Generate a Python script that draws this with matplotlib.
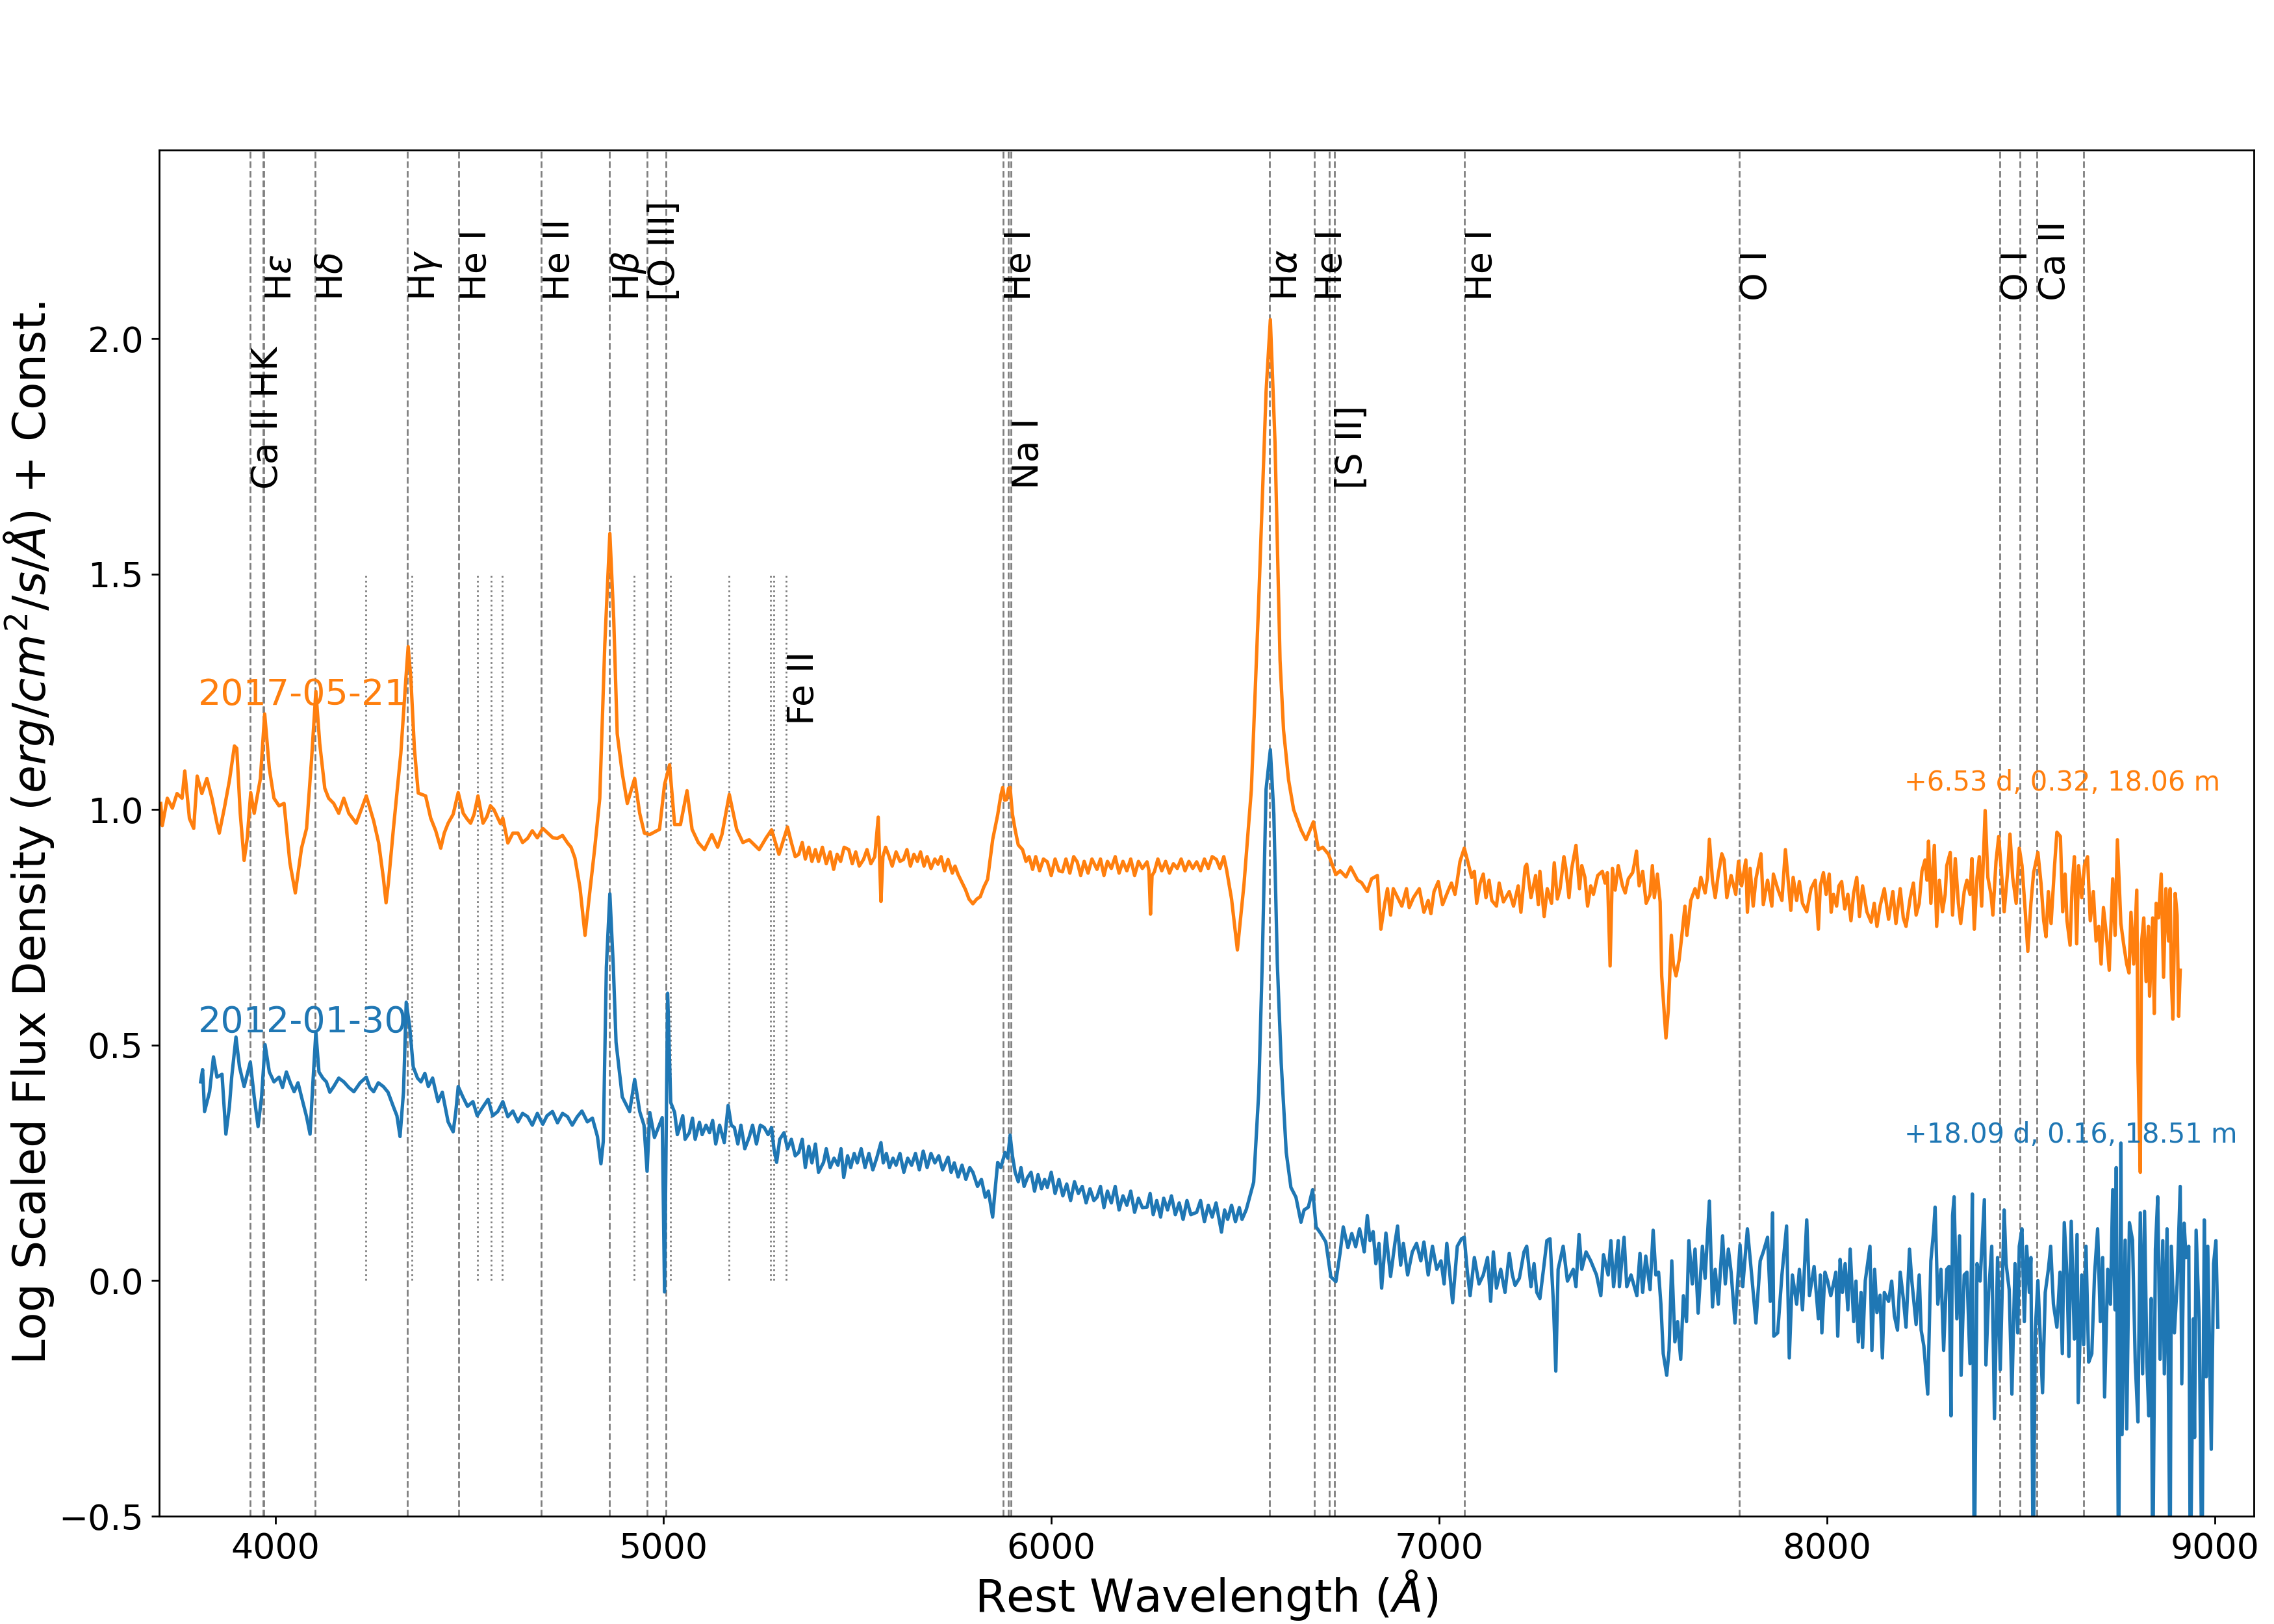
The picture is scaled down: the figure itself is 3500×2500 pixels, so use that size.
import matplotlib
matplotlib.use('Agg')
import matplotlib.pyplot as plt

# 2017-05-21 spectrum (orange), rest wavelength in Angstrom and log scaled flux + const
orange_wave = [
    3704, 3708, 3721, 3734, 3746, 3759, 3766, 3778, 3789, 3798,
    3810, 3823, 3836, 3849, 3855, 3868, 3881, 3894, 3900, 3909,
    3919, 3927, 3936, 3945, 3961, 3972, 3984, 3996, 4009, 4022,
    4037, 4051, 4067, 4080, 4093, 4104, 4114, 4127, 4137, 4150,
    4163, 4176, 4189, 4208, 4234, 4253, 4266, 4278, 4285, 4291,
    4304, 4323, 4336, 4342, 4349, 4358, 4368, 4387, 4400, 4413,
    4426, 4435, 4445, 4458, 4471, 4484, 4494, 4503, 4512, 4522,
    4535, 4545, 4554, 4563, 4573, 4580, 4586, 4599, 4612, 4625,
    4637, 4650, 4662, 4675, 4689, 4702, 4715, 4727, 4740, 4753,
    4762, 4772, 4785, 4798, 4810, 4823, 4836, 4849, 4862, 4872,
    4881, 4894, 4907, 4926, 4939, 4951, 4965, 4990, 5003, 5016,
    5029, 5044, 5061, 5074, 5090, 5106, 5125, 5140, 5151, 5170,
    5189, 5205, 5221, 5247, 5265, 5279, 5298, 5320, 5330, 5340,
    5349, 5358, 5366, 5375, 5383, 5392, 5400, 5410, 5420, 5430,
    5439, 5448, 5457, 5466, 5478, 5487, 5496, 5505, 5516, 5525,
    5535, 5545, 5554, 5558, 5561, 5566, 5573, 5580, 5590, 5600,
    5610, 5619, 5628, 5637, 5646, 5655, 5663, 5672, 5680, 5690,
    5700, 5708, 5716, 5725, 5734, 5745, 5752, 5760, 5770, 5779,
    5788, 5798, 5808, 5817, 5826, 5836, 5849, 5862, 5870, 5875,
    5880, 5885, 5890, 5894, 5900, 5907, 5915, 5926, 5935, 5943,
    5952, 5960, 5970, 5980, 5990, 6000, 6010, 6020, 6029, 6038,
    6048, 6058, 6067, 6076, 6085, 6095, 6105, 6118, 6127, 6136,
    6145, 6155, 6165, 6175, 6185, 6195, 6205, 6215, 6225, 6235,
    6247, 6252, 6256, 6260, 6266, 6275, 6285, 6295, 6305, 6315,
    6325, 6335, 6345, 6355, 6365, 6375, 6385, 6395, 6405, 6415,
    6426, 6435, 6445, 6452, 6465, 6480, 6497, 6516, 6535, 6554,
    6565, 6577, 6590, 6599, 6612, 6625, 6644, 6657, 6676, 6689,
    6700, 6715, 6734, 6745, 6760, 6772, 6790, 6800, 6815, 6826,
    6841, 6850, 6860, 6867, 6875, 6882, 6904, 6916, 6923, 6934,
    6949, 6961, 6972, 6979, 6987, 6998, 7009, 7024, 7032, 7041,
    7047, 7054, 7065, 7073, 7084, 7091, 7097, 7106, 7114, 7121,
    7129, 7136, 7148, 7155, 7166, 7181, 7192, 7204, 7211, 7222,
    7226, 7237, 7249, 7256, 7260, 7271, 7279, 7290, 7297, 7305,
    7312, 7322, 7327, 7335, 7342, 7353, 7362, 7368, 7376, 7383,
    7391, 7398, 7409, 7421, 7428, 7434, 7441, 7447, 7454, 7462,
    7473, 7480, 7488, 7499, 7504, 7509, 7516, 7525, 7534, 7544,
    7550, 7555, 7563, 7570, 7574, 7585, 7591, 7599, 7604, 7611,
    7619, 7626, 7634, 7639, 7644, 7649, 7660, 7667, 7675, 7686,
    7692, 7697, 7705, 7712, 7720, 7729, 7735, 7742, 7753, 7765,
    7772, 7780, 7791, 7795, 7802, 7810, 7817, 7830, 7836, 7847,
    7858, 7862, 7873, 7884, 7893, 7907, 7913, 7922, 7929, 7937,
    7948, 7959, 7970, 7978, 7983, 7991, 7998, 8006, 8011, 8017,
    8025, 8031, 8038, 8046, 8054, 8062, 8069, 8077, 8084, 8092,
    8103, 8114, 8122, 8129, 8137, 8148, 8159, 8170, 8178, 8189,
    8197, 8204, 8215, 8223, 8230, 8238, 8245, 8253, 8258, 8262,
    8268, 8277, 8283, 8290, 8298, 8305, 8309, 8318, 8324, 8331,
    8339, 8345, 8354, 8361, 8369, 8374, 8380, 8387, 8393, 8399,
    8408, 8415, 8423, 8428, 8436, 8443, 8451, 8457, 8466, 8472,
    8479, 8488, 8496, 8503, 8511, 8518, 8526, 8533, 8544, 8552,
    8559, 8565, 8571, 8578, 8587, 8593, 8602, 8608, 8614, 8619,
    8627, 8632, 8638, 8644, 8649, 8657, 8664, 8672, 8679, 8687,
    8694, 8701, 8707, 8713, 8720, 8728, 8737, 8743, 8749, 8758,
    8765, 8773, 8779, 8784, 8791, 8799, 8802, 8808, 8811, 8817,
    8823, 8829, 8832, 8840, 8844, 8849, 8855, 8862, 8868, 8874,
    8881, 8885, 8888, 8892, 8898, 8903, 8907, 8911,
]
orange_flux = [
    1.013, 0.966, 1.024, 1.003, 1.034, 1.024, 1.082, 0.981, 0.960, 1.071,
    1.034, 1.066, 1.024, 0.971, 0.950, 1.003, 1.061, 1.135, 1.130, 0.992,
    0.892, 0.939, 1.036, 0.992, 1.066, 1.203, 1.087, 1.024, 1.008, 1.013,
    0.887, 0.823, 0.918, 0.960, 1.108, 1.251, 1.140, 1.045, 1.024, 1.013,
    0.992, 1.024, 0.992, 0.971, 1.029, 0.976, 0.929, 0.855, 0.802, 0.844,
    0.960, 1.119, 1.277, 1.346, 1.277, 1.130, 1.035, 1.029, 0.982, 0.955,
    0.918, 0.950, 0.971, 0.990, 1.036, 0.992, 0.980, 0.971, 0.990, 1.029,
    0.971, 0.985, 1.008, 1.000, 0.982, 0.970, 0.982, 0.929, 0.950, 0.950,
    0.930, 0.939, 0.955, 0.940, 0.960, 0.950, 0.940, 0.939, 0.945, 0.929,
    0.920, 0.897, 0.834, 0.733, 0.823, 0.918, 1.024, 1.351, 1.586, 1.404,
    1.161, 1.077, 1.013, 1.066, 0.992, 0.950, 0.947, 0.958, 1.053, 1.095,
    0.968, 0.968, 1.040, 0.958, 0.930, 0.915, 0.947, 0.920, 0.947, 1.032,
    0.958, 0.930, 0.936, 0.915, 0.940, 0.957, 0.905, 0.963, 0.930, 0.900,
    0.905, 0.930, 0.895, 0.920, 0.890, 0.915, 0.890, 0.920, 0.885, 0.910,
    0.873, 0.905, 0.890, 0.920, 0.915, 0.885, 0.910, 0.880, 0.894, 0.915,
    0.885, 0.900, 0.984, 0.880, 0.805, 0.900, 0.920, 0.905, 0.880, 0.910,
    0.890, 0.894, 0.915, 0.880, 0.905, 0.890, 0.910, 0.880, 0.900, 0.875,
    0.895, 0.884, 0.900, 0.870, 0.894, 0.865, 0.880, 0.862, 0.845, 0.830,
    0.810, 0.800, 0.810, 0.815, 0.835, 0.852, 0.936, 0.989, 1.030, 1.047,
    1.020, 1.021, 1.045, 1.047, 0.990, 0.957, 0.925, 0.915, 0.890, 0.900,
    0.873, 0.900, 0.870, 0.895, 0.889, 0.860, 0.895, 0.870, 0.868, 0.895,
    0.865, 0.900, 0.889, 0.860, 0.890, 0.865, 0.895, 0.873, 0.895, 0.860,
    0.890, 0.875, 0.900, 0.865, 0.890, 0.870, 0.895, 0.860, 0.890, 0.875,
    0.889, 0.870, 0.778, 0.860, 0.868, 0.895, 0.870, 0.890, 0.865, 0.885,
    0.875, 0.895, 0.870, 0.890, 0.875, 0.889, 0.870, 0.895, 0.875, 0.900,
    0.894, 0.875, 0.900, 0.873, 0.810, 0.702, 0.841, 1.042, 1.443, 1.887,
    2.040, 1.780, 1.317, 1.169, 1.063, 1.000, 0.957, 0.936, 0.974, 0.915,
    0.920, 0.905, 0.862, 0.870, 0.857, 0.878, 0.850, 0.845, 0.826, 0.853,
    0.860, 0.746, 0.801, 0.832, 0.776, 0.832, 0.795, 0.832, 0.792, 0.813,
    0.832, 0.782, 0.807, 0.779, 0.826, 0.847, 0.798, 0.829, 0.844, 0.820,
    0.850, 0.890, 0.918, 0.893, 0.856, 0.869, 0.801, 0.844, 0.863, 0.813,
    0.850, 0.807, 0.795, 0.844, 0.804, 0.826, 0.795, 0.838, 0.782, 0.878,
    0.884, 0.813, 0.860, 0.798, 0.869, 0.773, 0.832, 0.801, 0.887, 0.810,
    0.832, 0.900, 0.875, 0.813, 0.875, 0.924, 0.832, 0.881, 0.856, 0.795,
    0.838, 0.820, 0.860, 0.869, 0.844, 0.866, 0.668, 0.875, 0.829, 0.881,
    0.838, 0.823, 0.853, 0.866, 0.887, 0.912, 0.838, 0.869, 0.801, 0.820,
    0.881, 0.813, 0.863, 0.804, 0.647, 0.515, 0.573, 0.733, 0.672, 0.647,
    0.681, 0.733, 0.795, 0.733, 0.770, 0.807, 0.832, 0.813, 0.856, 0.823,
    0.856, 0.937, 0.850, 0.813, 0.863, 0.906, 0.893, 0.813, 0.860, 0.820,
    0.890, 0.838, 0.893, 0.782, 0.875, 0.795, 0.853, 0.906, 0.798, 0.850,
    0.795, 0.863, 0.832, 0.807, 0.915, 0.786, 0.856, 0.807, 0.847, 0.801,
    0.783, 0.832, 0.850, 0.746, 0.838, 0.866, 0.820, 0.863, 0.782, 0.820,
    0.795, 0.838, 0.847, 0.789, 0.820, 0.764, 0.823, 0.856, 0.773, 0.838,
    0.783, 0.761, 0.801, 0.752, 0.795, 0.832, 0.767, 0.826, 0.758, 0.832,
    0.770, 0.752, 0.813, 0.844, 0.776, 0.801, 0.869, 0.893, 0.850, 0.933,
    0.801, 0.924, 0.752, 0.850, 0.783, 0.820, 0.881, 0.909, 0.776, 0.896,
    0.801, 0.758, 0.826, 0.850, 0.820, 0.896, 0.746, 0.856, 0.900, 0.795,
    0.998, 0.856, 0.820, 0.776, 0.890, 0.943, 0.856, 0.783, 0.869, 0.948,
    0.856, 0.801, 0.918, 0.881, 0.789, 0.699, 0.801, 0.866, 0.909, 0.844,
    0.764, 0.730, 0.826, 0.758, 0.881, 0.952, 0.943, 0.783, 0.863, 0.764,
    0.712, 0.835, 0.900, 0.715, 0.881, 0.813, 0.881, 0.900, 0.764, 0.826,
    0.721, 0.752, 0.672, 0.792, 0.739, 0.659, 0.853, 0.733, 0.936, 0.758,
    0.715, 0.672, 0.653, 0.782, 0.672, 0.829, 0.465, 0.230, 0.715, 0.770,
    0.635, 0.752, 0.604, 0.770, 0.567, 0.801, 0.770, 0.863, 0.644, 0.832,
    0.721, 0.832, 0.641, 0.555, 0.822, 0.776, 0.561, 0.659,
]

# 2012-01-30 spectrum (blue)
blue_wave = [
    3807, 3812, 3817, 3830, 3840, 3849, 3862, 3872, 3881, 3887,
    3898, 3907, 3919, 3935, 3945, 3955, 3964, 3973, 3984, 3996,
    4009, 4018, 4028, 4038, 4048, 4058, 4067, 4080, 4089, 4095,
    4104, 4112, 4122, 4131, 4140, 4150, 4163, 4176, 4189, 4202,
    4218, 4234, 4243, 4253, 4265, 4278, 4290, 4304, 4313, 4321,
    4330, 4337, 4346, 4355, 4366, 4375, 4385, 4394, 4405, 4419,
    4430, 4445, 4458, 4465, 4471, 4483, 4495, 4509, 4520, 4535,
    4548, 4560, 4573, 4586, 4599, 4612, 4625, 4637, 4650, 4662,
    4675, 4689, 4700, 4714, 4727, 4740, 4753, 4765, 4778, 4790,
    4804, 4817, 4830, 4839, 4845, 4853, 4862, 4871, 4878, 4894,
    4913, 4926, 4939, 4950, 4958, 4965, 4977, 4997, 5003, 5011,
    5019, 5029, 5036, 5042, 5050, 5056, 5067, 5075, 5082, 5093,
    5100, 5110, 5119, 5127, 5135, 5145, 5157, 5167, 5175, 5183,
    5192, 5200, 5210, 5221, 5230, 5240, 5250, 5260, 5270, 5279,
    5285, 5292, 5300, 5311, 5320, 5330, 5340, 5349, 5358, 5366,
    5375, 5383, 5392, 5400, 5413, 5420, 5430, 5440, 5450, 5458,
    5465, 5475, 5483, 5492, 5500, 5510, 5520, 5530, 5540, 5550,
    5561, 5567, 5575, 5583, 5592, 5600, 5610, 5620, 5630, 5640,
    5650, 5660, 5670, 5680, 5690, 5700, 5710, 5720, 5734, 5742,
    5750, 5760, 5770, 5780, 5790, 5798, 5810, 5820, 5830, 5838,
    5849, 5855, 5862, 5870, 5881, 5888, 5894, 5900, 5907, 5915,
    5922, 5930, 5939, 5948, 5957, 5966, 5975, 5983, 5990, 6000,
    6010, 6020, 6030, 6040, 6050, 6060, 6070, 6080, 6090, 6100,
    6110, 6118, 6127, 6136, 6145, 6155, 6165, 6175, 6185, 6195,
    6205, 6215, 6225, 6235, 6247, 6255, 6263, 6272, 6282, 6290,
    6300, 6310, 6320, 6330, 6340, 6350, 6360, 6375, 6385, 6395,
    6405, 6415, 6425, 6439, 6447, 6455, 6465, 6475, 6485, 6492,
    6503, 6522, 6535, 6544, 6554, 6565, 6574, 6583, 6593, 6606,
    6618, 6631, 6644, 6652, 6663, 6674, 6683, 6695, 6708, 6721,
    6734, 6745, 6753, 6765, 6775, 6785, 6795, 6803, 6807, 6815,
    6822, 6830, 6837, 6845, 6852, 6863, 6875, 6886, 6893, 6901,
    6908, 6919, 6931, 6942, 6953, 6961, 6972, 6983, 6994, 7005,
    7013, 7020, 7028, 7035, 7047, 7058, 7065, 7073, 7080, 7091,
    7103, 7114, 7125, 7133, 7140, 7148, 7159, 7170, 7181, 7189,
    7196, 7207, 7219, 7226, 7237, 7245, 7252, 7260, 7271, 7278,
    7286, 7295, 7301, 7307, 7320, 7331, 7346, 7353, 7361, 7368,
    7379, 7391, 7406, 7417, 7424, 7436, 7443, 7450, 7462, 7465,
    7477, 7484, 7495, 7510, 7518, 7525, 7533, 7544, 7552, 7559,
    7566, 7572, 7578, 7587, 7593, 7600, 7608, 7615, 7623, 7630,
    7638, 7644, 7653, 7660, 7668, 7679, 7686, 7697, 7705, 7712,
    7720, 7731, 7738, 7746, 7753, 7763, 7776, 7783, 7795, 7806,
    7817, 7828, 7836, 7847, 7854, 7860, 7863, 7873, 7884, 7896,
    7903, 7911, 7922, 7929, 7937, 7948, 7955, 7967, 7978, 7983,
    7987, 7995, 8002, 8010, 8017, 8023, 8028, 8034, 8040, 8047,
    8054, 8060, 8069, 8075, 8081, 8088, 8092, 8099, 8105, 8111,
    8116, 8123, 8129, 8137, 8143, 8148, 8159, 8167, 8174, 8182,
    8189, 8197, 8204, 8213, 8219, 8230, 8238, 8243, 8250, 8260,
    8268, 8275, 8279, 8286, 8294, 8301, 8309, 8315, 8320, 8324,
    8328, 8335, 8342, 8346, 8354, 8361, 8369, 8375, 8380, 8387,
    8395, 8406, 8410, 8417, 8425, 8432, 8440, 8447, 8457, 8462,
    8470, 8477, 8485, 8492, 8496, 8503, 8509, 8515, 8522, 8526,
    8532, 8537, 8544, 8556, 8563, 8571, 8577, 8584, 8593, 8601,
    8607, 8612, 8619, 8624, 8630, 8638, 8645, 8648, 8657, 8662,
    8668, 8675, 8683, 8690, 8698, 8705, 8711, 8716, 8724, 8731,
    8737, 8743, 8746, 8752, 8758, 8761, 8769, 8773, 8780, 8788,
    8795, 8802, 8808, 8814, 8819, 8825, 8830, 8836, 8840, 8847,
    8853, 8859, 8866, 8870, 8877, 8885, 8888, 8896, 8903, 8911,
    8915, 8921, 8926, 8933, 8937, 8945, 8948, 8952, 8960, 8967,
    8973, 8978, 8982, 8991, 8997, 9003, 9008,
]
blue_flux = [
    0.422, 0.448, 0.359, 0.401, 0.475, 0.432, 0.438, 0.311, 0.369, 0.432,
    0.517, 0.454, 0.412, 0.464, 0.390, 0.327, 0.390, 0.501, 0.443, 0.422,
    0.432, 0.410, 0.443, 0.420, 0.401, 0.420, 0.390, 0.348, 0.311, 0.401,
    0.528, 0.443, 0.430, 0.422, 0.400, 0.412, 0.430, 0.422, 0.410, 0.401,
    0.420, 0.432, 0.410, 0.401, 0.420, 0.412, 0.400, 0.369, 0.350, 0.306,
    0.401, 0.591, 0.538, 0.454, 0.430, 0.422, 0.440, 0.412, 0.430, 0.380,
    0.400, 0.337, 0.316, 0.360, 0.412, 0.390, 0.370, 0.380, 0.350, 0.369,
    0.385, 0.350, 0.359, 0.380, 0.348, 0.360, 0.337, 0.355, 0.348, 0.330,
    0.355, 0.332, 0.350, 0.359, 0.335, 0.355, 0.348, 0.330, 0.348, 0.360,
    0.337, 0.345, 0.306, 0.248, 0.295, 0.665, 0.821, 0.665, 0.506, 0.390,
    0.359, 0.427, 0.359, 0.330, 0.232, 0.357, 0.304, 0.346, -0.024, 0.610,
    0.378, 0.357, 0.310, 0.325, 0.350, 0.300, 0.314, 0.345, 0.300, 0.336,
    0.310, 0.330, 0.314, 0.340, 0.290, 0.330, 0.293, 0.372, 0.330, 0.325,
    0.290, 0.330, 0.280, 0.304, 0.330, 0.290, 0.330, 0.325, 0.310, 0.325,
    0.280, 0.251, 0.300, 0.314, 0.280, 0.300, 0.265, 0.272, 0.300, 0.240,
    0.285, 0.250, 0.290, 0.230, 0.251, 0.280, 0.240, 0.260, 0.245, 0.280,
    0.219, 0.265, 0.240, 0.270, 0.250, 0.280, 0.240, 0.270, 0.235, 0.260,
    0.293, 0.250, 0.270, 0.240, 0.260, 0.245, 0.270, 0.230, 0.260, 0.245,
    0.270, 0.235, 0.275, 0.240, 0.270, 0.250, 0.265, 0.235, 0.262, 0.230,
    0.250, 0.220, 0.245, 0.215, 0.240, 0.230, 0.200, 0.215, 0.177, 0.190,
    0.135, 0.190, 0.251, 0.240, 0.272, 0.260, 0.309, 0.265, 0.230, 0.210,
    0.240, 0.200, 0.219, 0.230, 0.190, 0.225, 0.195, 0.215, 0.198, 0.230,
    0.185, 0.215, 0.180, 0.205, 0.170, 0.210, 0.185, 0.200, 0.165, 0.195,
    0.170, 0.177, 0.200, 0.155, 0.190, 0.165, 0.200, 0.150, 0.180, 0.160,
    0.190, 0.145, 0.175, 0.155, 0.156, 0.185, 0.140, 0.170, 0.135, 0.175,
    0.150, 0.180, 0.140, 0.165, 0.130, 0.170, 0.140, 0.145, 0.170, 0.125,
    0.160, 0.135, 0.165, 0.103, 0.150, 0.130, 0.160, 0.125, 0.155, 0.130,
    0.151, 0.209, 0.399, 0.673, 1.043, 1.127, 0.990, 0.673, 0.462, 0.272,
    0.198, 0.177, 0.124, 0.150, 0.156, 0.193, 0.114, 0.100, 0.082, 0.008,
    -0.002, 0.060, 0.114, 0.070, 0.100, 0.072, 0.110, 0.080, 0.061, 0.138,
    0.085, 0.104, 0.036, 0.079, -0.016, 0.101, 0.009, 0.079, 0.116, 0.033,
    0.079, 0.012, 0.061, 0.079, 0.042, 0.082, 0.012, 0.073, 0.024, 0.042,
    -0.007, 0.079, 0.012, -0.047, 0.073, 0.089, 0.092, 0.018, -0.032, 0.049,
    -0.007, 0.012, 0.049, -0.044, 0.061, -0.016, 0.024, -0.025, 0.058, 0.012,
    -0.010, 0.005, 0.061, 0.073, -0.013, 0.036, -0.025, -0.038, 0.036, 0.085,
    0.089, -0.050, -0.192, 0.024, 0.073, -0.001, 0.024, -0.013, 0.098, 0.024,
    0.061, 0.042, 0.012, -0.032, 0.055, 0.012, 0.085, -0.013, 0.085, -0.013,
    0.092, -0.013, 0.012, -0.032, 0.058, -0.025, 0.052, -0.019, 0.107, 0.012,
    0.018, -0.050, -0.155, -0.201, -0.148, 0.042, -0.130, -0.087, -0.167, -0.032,
    -0.087, 0.085, -0.007, 0.067, -0.069, 0.073, 0.005, 0.169, -0.056, 0.024,
    -0.050, 0.095, -0.007, 0.067, 0.018, -0.090, 0.076, -0.013, 0.110, 0.012,
    -0.090, 0.042, 0.061, 0.092, -0.044, 0.144, -0.118, -0.111, 0.012, 0.116,
    -0.164, 0.012, -0.050, 0.024, -0.062, 0.129, -0.032, 0.030, -0.081, 0.012,
    -0.111, 0.018, -0.001, -0.032, -0.007, 0.018, -0.118, 0.045, -0.025, 0.036,
    -0.062, 0.067, -0.087, -0.001, -0.130, -0.025, -0.142, 0.000, 0.036, 0.073,
    -0.148, 0.024, -0.068, -0.031, -0.164, -0.025, -0.044, -0.001, -0.075, -0.105,
    0.018, -0.038, -0.099, 0.067, -0.001, -0.093, 0.012, -0.105, -0.139, -0.241,
    0.042, 0.104, 0.156, -0.050, 0.024, -0.148, 0.024, 0.030, -0.287, 0.138,
    0.178, -0.081, 0.095, -0.201, 0.012, 0.018, -0.176, 0.184, -0.650, 0.036,
    -0.001, 0.172, -0.179, -0.025, 0.073, -0.293, 0.049, -0.189, 0.150, 0.036,
    -0.019, -0.241, 0.036, -0.111, 0.073, 0.110, -0.087, 0.073, -0.025, 0.049,
    -0.650, -0.111, 0.000, -0.238, -0.025, 0.024, 0.073, -0.050, -0.099, 0.018,
    -0.155, 0.123, 0.012, -0.161, 0.126, -0.124, 0.098, -0.259, 0.012, -0.136,
    0.073, -0.173, -0.155, 0.012, 0.110, -0.087, 0.049, -0.247, 0.024, -0.050,
    0.193, -0.062, 0.240, -0.650, 0.292, -0.327, 0.086, -0.315, 0.123, 0.086,
    -0.173, -0.300, 0.144, -0.198, 0.147, -0.173, -0.287, -0.038, -0.650, 0.067,
    0.178, -0.167, 0.085, -0.198, 0.110, -0.650, 0.073, -0.111, -0.007, 0.200,
    -0.219, 0.122, 0.049, 0.073, -0.650, -0.081, -0.333, 0.107, -0.087, -0.650,
    0.129, -0.204, 0.073, -0.358, 0.036, 0.085, -0.099,
]

# dashed line identifications
line_waves = [3933.7, 3968.5, 3970.1, 4101.7, 4340.5, 4471.5, 4685.7, 4861.3,
              4958.9, 5006.8, 5875.6, 5890.0, 5895.9, 6562.8, 6678.2, 6716.4,
              6730.8, 7065.2, 7773.4, 8446.4, 8498.0, 8542.1, 8662.1]
top_names = [r'H$\varepsilon$', r'H$\delta$', r'H$\gamma$', 'He I', 'He II',
             r'H$\beta$', '[O III]', 'He I', r'H$\alpha$', 'He I', 'He I',
             'O I', 'O I', 'Ca II']
top_pos = [3970.1, 4101.7, 4340.5, 4471.5, 4685.7, 4861.3, 4958.9, 5875.6,
           6562.8, 6678.2, 7065.2, 7773.4, 8446.4, 8542.1]
low_names = ['Ca II HK', 'Na I', '[S II]']
low_pos = [3933.7, 5895.9, 6730.8]

# dotted Fe II lines
feii_waves = [4233.2, 4351.8, 4520.2, 4555.9, 4583.8, 4923.9, 5018.4, 5169.0,
              5276.0, 5284.1, 5316.6]

fig, ax = plt.subplots(figsize=(14, 10), dpi=250)
fig.subplots_adjust(left=0.07, right=0.991, bottom=0.0664, top=0.9076)

for w in line_waves:
    ax.axvline(w, color='gray', ls='--', lw=0.8, zorder=1)
ax.vlines(feii_waves, 0, 1.5, colors='gray', linestyles=':', lw=0.8, zorder=1)

ax.plot(blue_wave, blue_flux, color='C0', lw=1.5)
ax.plot(orange_wave, orange_flux, color='C1', lw=1.5)

for name, w in zip(top_names, top_pos):
    ax.text(w, 2.08, name, rotation=90, ha='left', va='bottom', fontsize=16)
for name, w in zip(low_names, low_pos):
    ax.text(w, 1.68, name, rotation=90, ha='left', va='bottom', fontsize=16)
ax.text(5316.6, 1.18, 'Fe II', rotation=90, ha='left', va='bottom', fontsize=16)

ax.text(3800, 1.222, '2017-05-21', color='C1', fontsize=16)
ax.text(3800, 0.527, '2012-01-30', color='C0', fontsize=16)
ax.text(8200, 1.04, '+6.53 d, 0.32, 18.06 m', color='C1', fontsize=12)
ax.text(8200, 0.293, '+18.09 d, 0.16, 18.51 m', color='C0', fontsize=12)

ax.set_xlim(3700, 9100)
ax.set_ylim(-0.5, 2.4)
ax.tick_params(labelsize=15.5)
ax.set_xlabel(r'Rest Wavelength ($Å$)', fontsize=20, labelpad=1)
ax.set_ylabel(r'Log Scaled Flux Density ($erg/cm^2/s/Å$) + Const.',
              fontsize=20, labelpad=1)

fig.savefig('out.png', dpi=250)
